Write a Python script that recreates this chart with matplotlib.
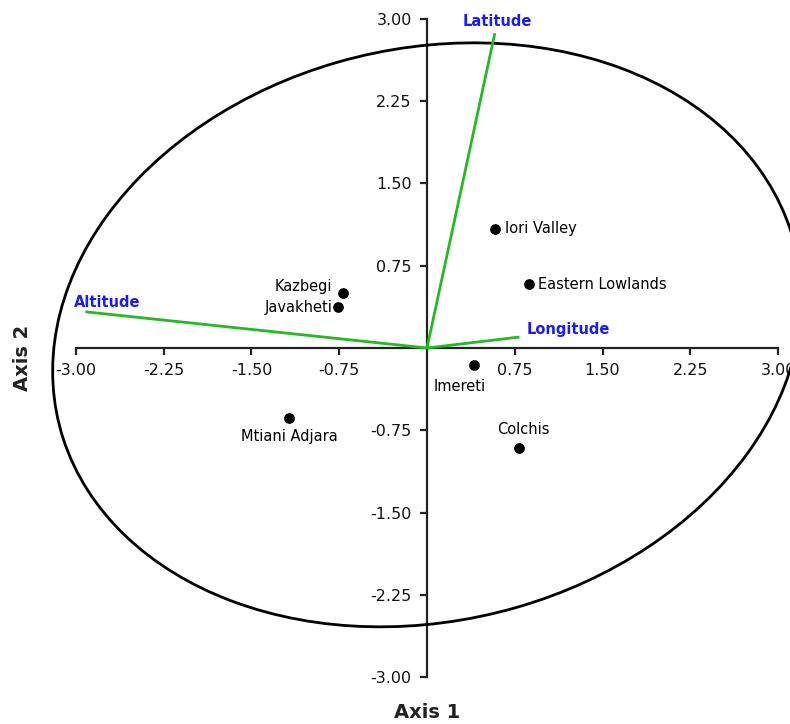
import matplotlib
matplotlib.use("Agg")
import matplotlib.pyplot as plt
from matplotlib.patches import Ellipse
import numpy as np

# Site scores
sites = ["Iori Valley", "Eastern Lowlands", "Kazbegi", "Javakheti", "Imereti", "Mtiani Adjara", "Colchis"]
axis1 = [0.58, 0.87, -0.72, -0.76, 0.40, -1.18, 0.79]
axis2 = [1.085, 0.58, 0.50, 0.37, -0.155, -0.64, -0.91]

# Variable loadings
variables = ["Latitude", "Altitude", "Longitude"]
load1 = [0.58, -2.92, 0.79]
load2 = [2.87, 0.33, 0.10]

# Ellipse parameters
ell_center = (0.0, 0.12)
ell_width = 6.5
ell_height = 5.2
ell_angle = 17.0

ticks = [-3.00, -2.25, -1.50, -0.75, 0.75, 1.50, 2.25, 3.00]
tick_labels = ["%.2f" % t for t in ticks]

fig = plt.figure(figsize=(7.9, 7.24), dpi=100)
ax = fig.add_axes([0, 0, 1, 1])
ax.set_xlim(-427 / 117, (790 - 427) / 117)
ax.set_ylim((348 - 724) / 109.7, 348 / 109.7)

for s in ["top", "right"]:
    ax.spines[s].set_visible(False)
ax.spines["left"].set_position(("data", 0))
ax.spines["bottom"].set_position(("data", 0))
ax.spines["left"].set_bounds(-3, 3)
ax.spines["bottom"].set_bounds(-3, 3)
for s in ["left", "bottom"]:
    ax.spines[s].set_linewidth(1.6)
    ax.spines[s].set_color("#222222")
    ax.spines[s].set_zorder(1)

ax.set_xticks(ticks)
ax.set_xticklabels(tick_labels)
ax.set_yticks(ticks)
ax.set_yticklabels(tick_labels)
ax.tick_params(axis="both", direction="out", length=5, width=1.6, color="#222222",
               labelsize=11.5, pad=6, labelcolor="#111111")

# Ellipse
ax.add_patch(Ellipse(ell_center, ell_width, ell_height, angle=ell_angle,
                     fill=False, edgecolor="black", lw=2, zorder=2))

# Loadings
label_pos = {
    "Latitude": dict(dx=0.02, dy=0.04, ha="center", va="bottom"),
    "Altitude": dict(dx=-0.1, dy=0.02, ha="left", va="bottom"),
    "Longitude": dict(dx=0.06, dy=0.0, ha="left", va="bottom"),
}
for name, lx, ly in zip(variables, load1, load2):
    ax.plot([0, lx], [0, ly], color="#22bb22", lw=2, zorder=3, solid_capstyle="butt")
    p = label_pos[name]
    ax.text(lx + p["dx"], ly + p["dy"], name, color="#1a1aff", fontsize=10.5,
            fontweight="bold", ha=p["ha"], va=p["va"], zorder=4)

# Points
ax.scatter(axis1, axis2, s=45, color="black", zorder=5)
site_pos = {
    "Iori Valley": (0.09, 0.0, "left", "center"),
    "Eastern Lowlands": (0.08, 0.0, "left", "center"),
    "Kazbegi": (-0.09, 0.06, "right", "center"),
    "Javakheti": (-0.05, 0.0, "right", "center"),
    "Imereti": (-0.12, -0.13, "center", "top"),
    "Mtiani Adjara": (0.0, -0.1, "center", "top"),
    "Colchis": (0.03, 0.1, "center", "bottom"),
}
for name, x, y in zip(sites, axis1, axis2):
    dx, dy, ha, va = site_pos[name]
    ax.text(x + dx, y + dy, name, fontsize=10.5, color="black", ha=ha, va=va,
            zorder=6)

fig.text(427 / 790, 1 - 712 / 724, "Axis 1", ha="center", va="center",
         fontsize=14, fontweight="bold", color="#222222")
fig.text(22 / 790, 1 - 358 / 724, "Axis 2", ha="center", va="center",
         fontsize=14, fontweight="bold", rotation=90, color="#222222")

fig.savefig("out.png", dpi=100)
